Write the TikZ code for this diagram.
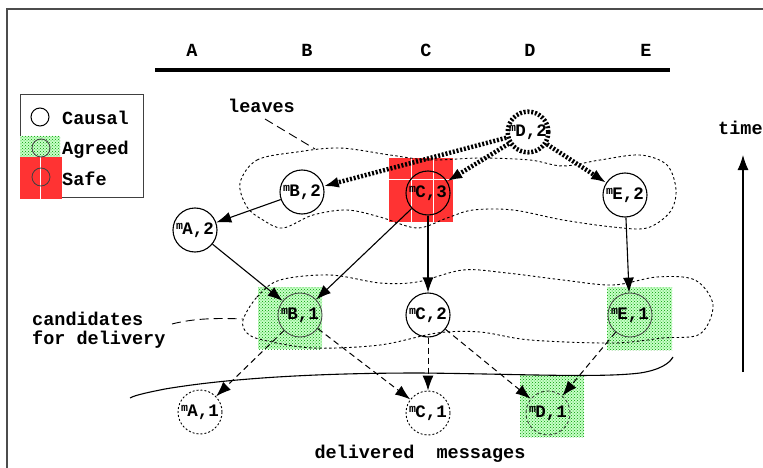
\documentclass[tikz,border=0pt]{standalone}
\usepackage{fontspec}
\setmainfont{Liberation Mono}
\usetikzlibrary{arrows.meta,patterns}
\newcommand{\msg}[2]{\raisebox{4.5pt}{\fontsize{11.5}{11.5}\selectfont m}\kern-0.5pt#1,#2}
\tikzset{
  txt/.style={font=\bfseries\fontsize{18.5}{19}\selectfont, inner sep=0pt},
  mnode/.style={circle, minimum size=44pt, inner sep=0pt, font=\bfseries\fontsize{17.5}{17.5}\selectfont},
  causal/.style={mnode, draw, line width=1.1pt},
  agreedc/.style={mnode, draw=black!75, line width=0.8pt},
  dotc/.style={mnode, draw, line width=0.9pt, dash pattern=on 2pt off 2pt},
  dashc/.style={mnode, draw=black!80, line width=0.8pt, dash pattern=on 3pt off 2.5pt},
  bigd/.style={mnode, minimum size=40pt, draw, line width=4.5pt, dash pattern=on 2pt off 1.8pt},
  agreedbg/.style={fill=green!22, postaction={pattern=crosshatch dots, pattern color=green!60!black}},
  safebg/.style={fill=red!80},
  tip/.style={-{Latex[length=15pt,width=11pt]}},
  solidarrow/.style={tip, line width=1.1pt},
  thickarrow/.style={tip, line width=4.5pt, dash pattern=on 2pt off 1.8pt},
  dasharrow/.style={tip, line width=1pt, dash pattern=on 6pt off 4pt},
  region/.style={line width=0.9pt, dash pattern=on 2.5pt off 2.5pt},
  leader/.style={line width=0.9pt, dash pattern=on 9pt off 5pt}
}
\begin{document}
\begin{tikzpicture}[x=1pt,y=-1pt]
\useasboundingbox (0,0) rectangle (763,468);
% frame
\draw[black!70, line width=1.5pt] (7,468) -- (7,9) -- (763,9);
% header
\foreach \l/\x in {A/192,B/307,C/426,D/530,E/646}
  \node[txt, anchor=base] (h\l) at (\x,57) {\l};
\draw[line width=4pt] (155,70) -- (670,70);

% backgrounds
\fill[safebg] (389,158) rectangle (453,222);
\draw[white, line width=0.7pt] (411,158) -- (411,222) (433,158) -- (433,222);
\draw[white, line width=0.4pt] (389,179) -- (453,179);
\fill[agreedbg] (258,287) rectangle (322,349);
\fill[agreedbg] (607,287) rectangle (672,350);
\fill[agreedbg] (520,375) rectangle (584,437);

% legend
\draw[black!75, line width=1pt] (20,95) rectangle (143,197);
\fill[agreedbg] (20,136) rectangle (60,157);
\fill[safebg] (20,157) rectangle (62,199);
\draw[white, line width=0.6pt] (40,157) -- (40,199);
\node[circle, draw, line width=1pt, minimum size=18pt, inner sep=0pt] (lc) at (40,117) {};
\node[circle, draw=black!75, line width=0.8pt, minimum size=18pt, inner sep=0pt] (la) at (41,148) {};
\node[circle, draw=black!75, line width=0.8pt, minimum size=18pt, inner sep=0pt] (ls) at (41,177) {};
\node[txt, anchor=base west] (tc) at (62,125) {Causal};
\node[txt, anchor=base west] (ta) at (62,155) {Agreed};
\node[txt, anchor=base west] (ts) at (62,185) {Safe};

% regions
\draw[region] plot[smooth cycle, tension=0.55] coordinates {
 (240,183) (257,160) (297,152) (340,148) (390,155) (430,160) (480,158) (530,160)
 (563,166) (600,160) (640,155) (667,165) (676,190) (670,212) (647,228) (613,227)
 (563,220) (513,210) (473,210) (447,218) (417,228) (380,217) (347,210) (313,215)
 (283,228) (263,220) (247,207)};
\draw[region] plot[smooth cycle, tension=0.55] coordinates {
 (243,320) (257,297) (280,280) (330,275) (380,283) (417,282) (463,270) (507,273)
 (563,280) (613,285) (657,277) (695,280) (713,305) (700,334) (663,338) (613,343)
 (530,340) (480,332) (437,333) (380,345) (313,348) (263,340) (247,333)};

% delivered boundary
\draw[line width=1.1pt] (130,398) .. controls (135,395) and (150,392) .. (165,389)
  .. controls (230,378) and (320,373) .. (420,373)
  .. controls (520,374) and (600,378) .. (640,373)
  .. controls (660,370) and (670,363) .. (673,357) -- (670,361);

% nodes
\node[bigd] (D2) at (528,132) {\msg{D}{2}};
\node[causal] (C3) at (428,193) {\msg{C}{3}};
\node[causal] (B2) at (302,192) {\msg{B}{2}};
\node[causal] (A2) at (195,230) {\msg{A}{2}};
\node[causal] (E2) at (625,195) {\msg{E}{2}};
\node[agreedc] (B1) at (300,315) {\msg{B}{1}};
\node[causal] (C2) at (428,315) {\msg{C}{2}};
\node[agreedc] (E1) at (630,315) {\msg{E}{1}};
\node[dotc] (A1) at (200,412) {\msg{A}{1}};
\node[dotc] (C1) at (428,413) {\msg{C}{1}};
\node[dashc] (D1) at (548,413) {\msg{D}{1}};

% arrows
\draw[thickarrow] (D2) -- (B2);
\draw[thickarrow] (D2) -- (C3);
\draw[thickarrow] (D2) -- (E2);
\draw[solidarrow] (B2) -- (A2);
\draw[solidarrow] (A2) -- (B1);
\draw[solidarrow] (C3) -- (B1);
\draw[solidarrow] (C3) -- (C2);
\draw[solidarrow] (E2) -- (E1);
\draw[dasharrow] (B1) -- (A1);
\draw[dasharrow] (B1) -- (C1);
\draw[dasharrow] (C2) -- (C1);
\draw[dasharrow] (C2) -- (D1);
\draw[dasharrow] (E1) -- (D1);

% labels
\node[txt, anchor=base west] (leaves) at (228,113) {leaves};
\coordinate (lvA) at (265,119);
\coordinate (lvB) at (315,149);
\draw[leader] (lvA) -- (lvB);
\node[txt, anchor=base west] (cand1) at (32,325) {candidates};
\node[txt, anchor=base west] (cand2) at (32,344) {for delivery};
\coordinate (cdA) at (172,324);
\coordinate (cdB) at (243,319);
\draw[leader] (cdA) .. controls (195,318) and (220,318) .. (cdB);
\node[txt, anchor=base] (deliv) at (420,458) {delivered\ \ messages};
\node[txt, anchor=base west] (time) at (718,135) {time};
\coordinate (tbot) at (743,372);
\coordinate (ttop) at (743,155);
\draw[solidarrow] (tbot) -- (ttop);
\end{tikzpicture}
\end{document}
